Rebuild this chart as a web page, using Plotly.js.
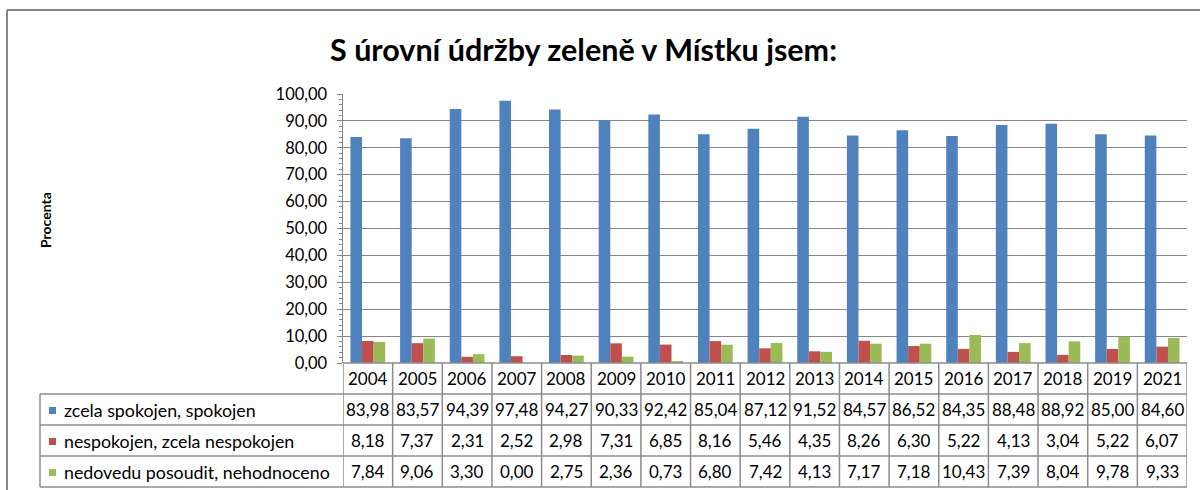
<!DOCTYPE html>
<html>
<head>
<meta charset="utf-8">
<script src="https://cdn.plot.ly/plotly-3.0.1.min.js"></script>
<style>html,body{margin:0;padding:0;background:#fff;}#chart{width:1200px;height:490px;}</style>
</head>
<body>
<div id="chart"></div>
<script>
const years = ['2004','2005','2006','2007','2008','2009','2010','2011','2012','2013','2014','2015','2016','2017','2018','2019','2021'];
const seriesNames = ['zcela spokojen, spokojen','nespokojen, zcela nespokojen','nedovedu posoudit, nehodnoceno'];
const spokojen = [83.98,83.57,94.39,97.48,94.27,90.33,92.42,85.04,87.12,91.52,84.57,86.52,84.35,88.48,88.92,85.00,84.60];
const nespokojen = [8.18,7.37,2.31,2.52,2.98,7.31,6.85,8.16,5.46,4.35,8.26,6.30,5.22,4.13,3.04,5.22,6.07];
const nedovedu = [7.84,9.06,3.30,0.00,2.75,2.36,0.73,6.80,7.42,4.13,7.17,7.18,10.43,7.39,8.04,9.78,9.33];
const colors = ['#4F81BD','#C0504D','#9BBB59'];
const titleText = 'S úrovní údržby zeleně v Místku jsem:';
const yTitle = 'Procenta';

const W = 1200, H = 490;
const X = p => p / W;
const Y = p => 1 - p / H;
const FONT = 'Lato, "Open Sans", sans-serif';
const gridCol = '#868686';
const tableCol = '#8c8c8c';

const plotL = 343, plotR = 1187, plotT = 94, plotB = 363;
const rows = [363, 394, 425, 456, 487];
const legendL = 40;

const allSeries = [spokojen, nespokojen, nedovedu];
const traces = allSeries.map((s, i) => ({
  type: 'bar', x: years, y: s, name: seriesNames[i],
  marker: {color: colors[i], line: {width: 0}},
  hoverinfo: 'x+y+name'
}));

const fmt = v => v.toFixed(2).replace('.', ',');
const shapes = [];
const annotations = [];

// outer frame
shapes.push({type:'line', xref:'paper', yref:'paper', x0:X(7), x1:X(1210), y0:Y(10), y1:Y(10), line:{color:gridCol, width:2}});
shapes.push({type:'line', xref:'paper', yref:'paper', x0:X(7), x1:X(7), y0:Y(10), y1:Y(500), line:{color:gridCol, width:2}});

// table horizontal lines
shapes.push({type:'line', xref:'paper', yref:'paper', x0:X(plotL), x1:X(plotR), y0:Y(rows[0]), y1:Y(rows[0]), line:{color:tableCol, width:1.5}});
for (let r = 1; r < rows.length; r++) {
  shapes.push({type:'line', xref:'paper', yref:'paper', x0:X(legendL), x1:X(plotR), y0:Y(rows[r]), y1:Y(rows[r]), line:{color:tableCol, width:1.5}});
}
// table vertical lines (category boundaries)
for (let i = 0; i <= years.length; i++) {
  shapes.push({type:'line', xref:'x', yref:'paper', x0:i-0.5, x1:i-0.5, y0:Y(rows[0]), y1:Y(rows[4]), line:{color:tableCol, width:1.5}});
}
shapes.push({type:'line', xref:'paper', yref:'paper', x0:X(legendL), x1:X(legendL), y0:Y(rows[1]), y1:Y(rows[4]), line:{color:tableCol, width:1.5}});

// year row
years.forEach((yr, i) => {
  annotations.push({xref:'x', yref:'paper', x:i, y:Y((rows[0]+rows[1])/2), text:yr, showarrow:false,
    font:{family:FONT, size:17, color:'#000'}, xanchor:'center', yanchor:'middle'});
});
// data rows
allSeries.forEach((s, si) => {
  const yc = (rows[si+1] + rows[si+2]) / 2;
  s.forEach((v, i) => {
    annotations.push({xref:'x', yref:'paper', x:i, y:Y(yc), text:fmt(v), showarrow:false,
      font:{family:FONT, size:17, color:'#000'}, xanchor:'center', yanchor:'middle'});
  });
  // legend key
  shapes.push({type:'rect', xref:'paper', yref:'paper', x0:X(49), x1:X(56), y0:Y(yc+4.5), y1:Y(yc-2.5), line:{width:0}, fillcolor:colors[si]});
  annotations.push({xref:'paper', yref:'paper', x:X(62), y:Y(yc), text:seriesNames[si], showarrow:false,
    font:{family:FONT, size:17.8, color:'#000'}, xanchor:'left', yanchor:'middle'});
});

// title
annotations.push({xref:'paper', yref:'paper', x:X(583), y:Y(49), text:'<b>'+titleText+'</b>', showarrow:false,
  font:{family:FONT, size:30.5, color:'#000'}, xanchor:'center', yanchor:'middle'});
// y title
annotations.push({xref:'paper', yref:'paper', x:X(45), y:Y(220), text:'<b>'+yTitle+'</b>', showarrow:false, textangle:-90,
  font:{family:FONT, size:14, color:'#000'}, xanchor:'center', yanchor:'middle'});

const layout = {
  width: W, height: H,
  margin: {l:0, r:0, t:0, b:0, pad:0},
  paper_bgcolor: '#fff', plot_bgcolor: '#fff',
  separators: ',.',
  showlegend: false,
  barmode: 'group', bargap: 0.3, bargroupgap: 0,
  xaxis: {type:'category', domain:[X(plotL), X(plotR)], range:[-0.5, years.length-0.5], autorange:false,
    showticklabels:false, ticks:'', showgrid:false, zeroline:false, showline:false, fixedrange:true},
  yaxis: {domain:[Y(plotB), Y(plotT)], range:[0,100], autorange:false, dtick:10, tickformat:'.2f',
    showgrid:true, gridcolor:gridCol, gridwidth:1, zeroline:false,
    showline:true, linecolor:gridCol, linewidth:1.5,
    ticks:'outside', ticklen:5, tickcolor:gridCol, tickwidth:1,
    minor:{dtick:2, ticks:'outside', ticklen:3, tickcolor:gridCol, showgrid:false},
    tickfont:{family:FONT, size:16.5, color:'#000'}, ticklabelstandoff:6, fixedrange:true},
  shapes: shapes,
  annotations: annotations,
  font: {family: FONT}
};

Plotly.newPlot('chart', traces, layout, {displayModeBar:false, staticPlot:true});
</script>
</body>
</html>
